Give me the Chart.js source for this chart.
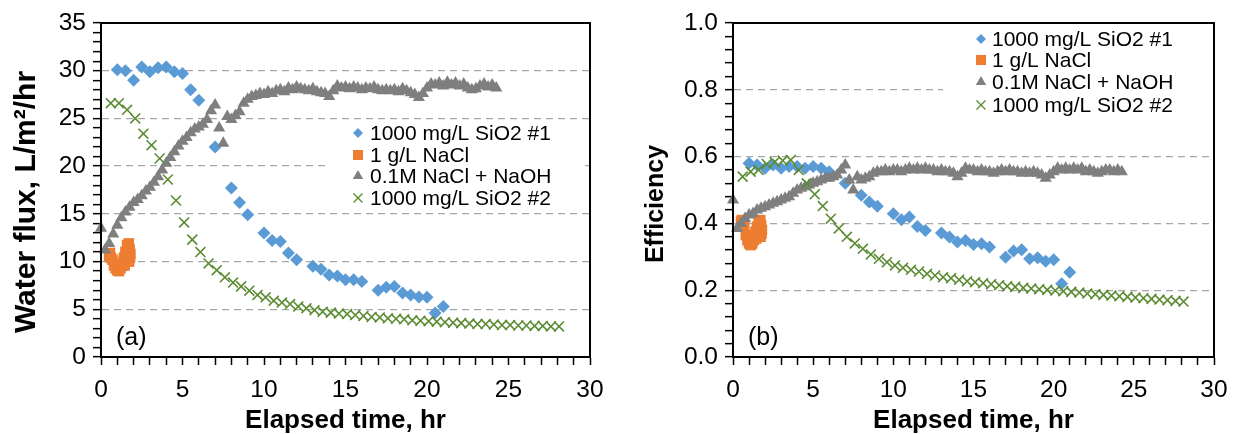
<!DOCTYPE html>
<html>
<head>
<meta charset="utf-8">
<script src="https://cdn.jsdelivr.net/npm/chart.js@4.4.1/dist/chart.umd.min.js"></script>
<style>
  body { margin: 0; background: #fff; }
  #wrap { position: relative; width: 1239px; height: 434px; }
  canvas { position: absolute; top: 0; }
  #flux { left: 0; }
  #eff { left: 620px; }
</style>
</head>
<body>
<div id="wrap">
  <canvas id="flux" width="620" height="434"></canvas>
  <canvas id="eff" width="619" height="434"></canvas>
</div>
<script>
const seriesNames = ["1000 mg/L SiO2 #1", "1 g/L NaCl", "0.1M NaCl + NaOH", "1000 mg/L SiO2 #2"];

// 1000 mg/L SiO2, run 1
const timeSi1 = [1.0, 1.5, 2.0, 2.5, 3.0, 3.5, 4.0, 4.5, 5.0, 5.5, 6.0, 7.0, 8.0, 8.5, 9.0, 10.0, 10.5, 11.0,
  11.5, 12.0, 13.0, 13.5, 14.0, 14.5, 15.0, 15.5, 16.0, 17.0, 17.5, 18.0, 18.5, 19.0, 19.5, 20.0, 20.5, 21.0];
const fluxSi1 = [30.1, 30.0, 29.0, 30.4, 29.9, 30.3, 30.4, 29.9, 29.7, 28.0, 26.9, 22.0, 17.7, 16.2, 14.9, 13.0, 12.2, 12.1,
  10.9, 10.2, 9.5, 9.2, 8.6, 8.5, 8.1, 8.1, 7.9, 7.0, 7.3, 7.4, 6.7, 6.5, 6.3, 6.25, 4.6, 5.3];
const effSi1 = [0.58, 0.575, 0.565, 0.575, 0.565, 0.57, 0.57, 0.565, 0.57, 0.565, 0.555, 0.52, 0.484, 0.464, 0.451, 0.429, 0.411, 0.419,
  0.391, 0.379, 0.371, 0.359, 0.344, 0.349, 0.337, 0.339, 0.329, 0.299, 0.317, 0.321, 0.294, 0.297, 0.287, 0.291, 0.219, 0.254];

// 1 g/L NaCl
const timeNaCl = [0.5, 0.55, 0.6, 0.7, 0.8, 0.9, 1.0, 1.05, 1.1, 1.2, 1.3, 1.35, 1.4, 1.45, 1.5, 1.55, 1.6, 1.65, 1.7, 1.72, 1.75, 1.78, 1.8];
const fluxNaCl = [10.6, 10.9, 10.4, 10.2, 9.6, 9.3, 9.1, 9.2, 9.0, 9.3, 9.6, 9.9, 10.4, 9.6, 11.0, 10.2, 11.7, 10.6, 11.9, 10.0, 11.3, 10.4, 10.8];
const effNaCl = [0.405, 0.41, 0.40, 0.39, 0.365, 0.35, 0.34, 0.345, 0.335, 0.34, 0.35, 0.36, 0.375, 0.355, 0.39, 0.365, 0.405, 0.37, 0.41, 0.36, 0.395, 0.37, 0.38];

// 0.1M NaCl + NaOH
const timeAlk = [0, 0.25, 0.5, 0.75, 1, 1.25, 1.5, 1.75, 2, 2.25, 2.5, 2.75, 3, 3.25, 3.5, 3.75, 4, 4.25, 4.5, 4.75,
  5, 5.25, 5.5, 5.75, 6, 6.25, 6.5, 6.75, 7, 7.25, 7.5, 7.75, 8, 8.25, 8.5, 8.75, 9, 9.25, 9.5, 9.75,
  10, 10.25, 10.5, 10.75, 11, 11.25, 11.5, 11.75, 12, 12.25, 12.5, 12.75, 13, 13.25, 13.5, 13.75, 14, 14.25, 14.5, 14.75,
  15, 15.25, 15.5, 15.75, 16, 16.25, 16.5, 16.75, 17, 17.25, 17.5, 17.75, 18, 18.25, 18.5, 18.75, 19, 19.25, 19.5, 19.75,
  20, 20.25, 20.5, 20.75, 21, 21.25, 21.5, 21.75, 22, 22.25, 22.5, 22.75, 23, 23.25, 23.5, 23.75, 24, 24.25];
const fluxAlk = [13.5, 11.2, 11.9, 12.9, 13.8, 14.6, 15.2, 15.7, 16.2, 16.5,
  16.9, 17.4, 17.8, 18.3, 18.9, 19.6, 20.3, 20.9, 21.5, 22.1,
  22.6, 23.0, 23.5, 23.9, 24.1, 24.4, 24.9, 25.8, 26.4, 24.0,
  22.4, 25.2, 24.9, 25.3, 25.7, 26.6, 27.0, 27.3, 27.4, 27.6,
  27.5, 27.8, 27.6, 27.9, 28.0, 27.8, 28.2, 28.0, 28.3, 28.1,
  28.0, 27.9, 28.1, 27.8, 27.7, 27.6, 27.3, 27.9, 28.4, 28.2,
  28.3, 28.1, 28.3, 28.2, 28.0, 28.2, 28.1, 28.3, 28.0, 27.9,
  28.0, 27.9, 28.0, 27.8, 28.1, 27.9, 27.7, 27.5, 27.2, 27.6,
  28.2, 28.6, 28.5, 28.7, 28.4, 28.8, 28.5, 28.7, 28.4, 28.6,
  28.2, 28.0, 28.1, 28.4, 28.6, 28.3, 28.5, 28.2];
const effAlk = [0.47, 0.385, 0.40, 0.415, 0.425, 0.43, 0.44, 0.445, 0.45, 0.455,
  0.46, 0.465, 0.47, 0.475, 0.48, 0.49, 0.50, 0.505, 0.51, 0.515,
  0.52, 0.525, 0.53, 0.535, 0.535, 0.54, 0.545, 0.56, 0.575, 0.53,
  0.50, 0.54, 0.53, 0.535, 0.54, 0.55, 0.555, 0.555, 0.56, 0.555,
  0.56, 0.56, 0.555, 0.56, 0.565, 0.56, 0.565, 0.56, 0.565, 0.56,
  0.56, 0.555, 0.56, 0.555, 0.555, 0.55, 0.54, 0.55, 0.565, 0.56,
  0.56, 0.555, 0.56, 0.555, 0.555, 0.55, 0.555, 0.56, 0.555, 0.56,
  0.555, 0.555, 0.55, 0.555, 0.55, 0.555, 0.55, 0.545, 0.535, 0.545,
  0.555, 0.565, 0.56, 0.565, 0.56, 0.565, 0.56, 0.565, 0.555, 0.56,
  0.555, 0.55, 0.555, 0.56, 0.56, 0.555, 0.56, 0.555];

// 1000 mg/L SiO2, run 2
const timeSi2 = [0.6, 1.1, 1.6, 2.1, 2.6, 3.1, 3.6, 4.1, 4.6, 5.1, 5.6, 6.1, 6.6, 7.1, 7.6, 8.1, 8.6, 9.1, 9.6, 10.1,
  10.6, 11.1, 11.6, 12.1, 12.6, 13.1, 13.6, 14.1, 14.6, 15.1, 15.6, 16.1, 16.6, 17.1, 17.6, 18.1, 18.6, 19.1, 19.6, 20.1,
  20.6, 21.1, 21.6, 22.1, 22.6, 23.1, 23.6, 24.1, 24.6, 25.1, 25.6, 26.1, 26.6, 27.1, 27.6, 28.1];
const fluxSi2 = [26.6, 26.6, 25.9, 25.0, 23.4, 22.2, 20.8, 18.6, 16.4, 14.1,
  12.3, 11.0, 9.8, 9.1, 8.35, 7.8, 7.4, 6.95, 6.5, 6.25,
  5.9, 5.7, 5.55, 5.3, 5.1, 4.9, 4.75, 4.65, 4.55, 4.5,
  4.4, 4.3, 4.2, 4.15, 4.05, 4.0, 3.95, 3.85, 3.8, 3.75,
  3.7, 3.65, 3.6, 3.55, 3.5, 3.45, 3.45, 3.4, 3.35, 3.35,
  3.3, 3.3, 3.25, 3.25, 3.2, 3.2];
const effSi2 = [0.54, 0.555, 0.56, 0.578, 0.584, 0.588, 0.59, 0.56, 0.52, 0.487,
  0.452, 0.414, 0.385, 0.36, 0.34, 0.324, 0.307, 0.294, 0.284, 0.274,
  0.267, 0.261, 0.256, 0.249, 0.244, 0.239, 0.236, 0.231, 0.227, 0.224,
  0.221, 0.218, 0.215, 0.212, 0.21, 0.207, 0.205, 0.203, 0.201, 0.199,
  0.197, 0.195, 0.193, 0.19, 0.188, 0.186, 0.184, 0.182, 0.18, 0.178,
  0.176, 0.174, 0.172, 0.17, 0.168, 0.166];

const timeTicks = [0, 5, 10, 15, 20, 25, 30];
const fluxTicks = [0, 5, 10, 15, 20, 25, 30, 35];
const effTicks = [0.0, 0.2, 0.4, 0.6, 0.8, 1.0];

const FONT = '"Liberation Sans", Arial, sans-serif';
Chart.defaults.font.family = FONT;
Chart.defaults.color = '#000';

const BLUE = '#5B9BD5', ORANGE = '#ED7D31', GRAY = '#7F7F7F', GREEN = '#5B8C32';
const markers = [
  { style: 'rectRot', color: BLUE, radius: 6.5 },
  { style: 'rect', color: ORANGE, radius: 7.5 },
  { style: 'triangle', color: GRAY, radius: 7 },
  { style: 'crossRot', color: GREEN, radius: 7 }
];

const pairs = (xs, ys) => xs.map((x, i) => ({ x, y: ys[i] }));

function buildDatasets(series) {
  // later series sit on top, so the first one gets the highest order
  return series.map((s, i) => {
    const m = markers[i];
    const isCross = m.style === 'crossRot';
    return {
      label: seriesNames[i],
      data: pairs(s.t, s.v),
      order: 4 - i,
      clip: false,
      pointStyle: m.style,
      pointRadius: m.radius,
      pointHoverRadius: m.radius,
      pointBackgroundColor: isCross ? 'rgba(0,0,0,0)' : m.color,
      pointBorderColor: m.color,
      pointBorderWidth: isCross ? 1.6 : 0,
      showLine: false
    };
  });
}

// small legend glyphs
function legendMark(ctx, style, color, x, y) {
  ctx.save();
  ctx.fillStyle = color;
  ctx.strokeStyle = color;
  ctx.beginPath();
  if (style === 'rectRot') {
    const r = 5;
    ctx.moveTo(x, y - r); ctx.lineTo(x + r, y); ctx.lineTo(x, y + r); ctx.lineTo(x - r, y);
    ctx.closePath(); ctx.fill();
  } else if (style === 'rect') {
    ctx.fillRect(x - 5, y - 5, 10, 10);
  } else if (style === 'triangle') {
    const r = 6;
    ctx.moveTo(x, y - r); ctx.lineTo(x + r * 0.866, y + r / 2); ctx.lineTo(x - r * 0.866, y + r / 2);
    ctx.closePath(); ctx.fill();
  } else {
    const d = 4.5;
    ctx.lineWidth = 1.4;
    ctx.moveTo(x - d, y - d); ctx.lineTo(x + d, y + d);
    ctx.moveTo(x + d, y - d); ctx.lineTo(x - d, y + d);
    ctx.stroke();
  }
  ctx.restore();
}

const panelDecor = {
  id: 'panelDecor',
  beforeDatasetsDraw(chart, args, o) {
    const ctx = chart.ctx;
    const b = o.legendBox;
    ctx.save();
    ctx.fillStyle = '#fff';
    ctx.fillRect(b.left, b.top, b.right - b.left, b.bottom - b.top);
    ctx.font = '21px ' + FONT;
    ctx.textAlign = 'left';
    ctx.textBaseline = 'middle';
    seriesNames.forEach((name, i) => {
      legendMark(ctx, markers[i].style, markers[i].color, o.markX, o.rows[i]);
      ctx.fillStyle = '#000';
      ctx.fillText(name, o.textX, o.rows[i] + 1);
    });
    ctx.restore();
  },
  afterDraw(chart, args, o) {
    const ctx = chart.ctx;
    const a = chart.chartArea;
    ctx.save();
    ctx.strokeStyle = '#000';
    ctx.lineWidth = 2;
    ctx.strokeRect(a.left, a.top, a.right - a.left, a.bottom - a.top);

    ctx.fillStyle = '#000';
    ctx.font = 'bold 26px ' + FONT;
    ctx.textAlign = 'center';
    ctx.textBaseline = 'alphabetic';
    ctx.fillText('Elapsed time, hr', (a.left + a.right) / 2, 428);

    ctx.font = '25px ' + FONT;
    ctx.textAlign = 'left';
    ctx.textBaseline = 'middle';
    ctx.fillText(o.tag, a.left + 15, 338);

    ctx.translate(o.titleX, o.titleY);
    ctx.rotate(-Math.PI / 2);
    ctx.font = 'bold ' + o.titleSize + 'px ' + FONT;
    ctx.textAlign = 'center';
    ctx.textBaseline = 'alphabetic';
    ctx.fillText(o.title, 0, 0);
    ctx.restore();
  }
};

function makeChart(id, cfg) {
  return new Chart(document.getElementById(id), {
    type: 'scatter',
    data: { datasets: buildDatasets(cfg.series) },
    options: {
      responsive: false,
      animation: false,
      events: [],
      layout: { padding: { top: 23, right: cfg.rightPad, left: 0, bottom: 0 } },
      scales: {
        x: {
          type: 'linear', min: 0, max: 30,
          afterFit: s => { s.height = 77; },
          ticks: {
            stepSize: 1, autoSkip: false, maxRotation: 0, padding: 11,
            font: { size: 24.5 }, color: '#000',
            callback: v => timeTicks.includes(v) ? String(v) : ''
          },
          grid: { drawOnChartArea: false, color: '#000', tickColor: '#000', tickLength: 8, tickWidth: 1.5 },
          border: { color: '#000', width: 2 }
        },
        y: {
          type: 'linear', min: cfg.yMin, max: cfg.yMax,
          afterFit: s => { s.width = cfg.yWidth; },
          ticks: {
            stepSize: cfg.yStep, autoSkip: false, padding: 7,
            font: { size: 24.5 }, color: '#000',
            callback: v => cfg.yTicks.includes(v) ? cfg.fmt(v) : ''
          },
          grid: {
            color: c => (cfg.yTicks.includes(c.tick.value) && c.tick.value > cfg.yMin && c.tick.value < cfg.yMax)
              ? '#A6A6A6' : 'rgba(0,0,0,0)',
            lineWidth: 1.3,
            tickColor: '#000', tickLength: 8, tickWidth: 1.5
          },
          border: { color: '#000', width: 2, dash: [7, 5] }
        }
      },
      plugins: {
        legend: { display: false },
        tooltip: { enabled: false },
        panelDecor: cfg.decor
      }
    },
    plugins: [panelDecor]
  });
}

makeChart('flux', {
  series: [
    { t: timeSi1, v: fluxSi1 }, { t: timeNaCl, v: fluxNaCl },
    { t: timeAlk, v: fluxAlk }, { t: timeSi2, v: fluxSi2 }
  ],
  yMin: 0, yMax: 35, yStep: 1, yTicks: fluxTicks, fmt: v => String(v),
  yWidth: 101, rightPad: 30,
  decor: {
    title: 'Water flux, L/m\u00B2/hr', titleX: 35, titleY: 202, titleSize: 30, tag: '(a)',
    legendBox: { left: 325, top: 120, right: 585, bottom: 210 },
    markX: 358, textX: 370, rows: [133, 155, 176, 198]
  }
});

makeChart('eff', {
  series: [
    { t: timeSi1, v: effSi1 }, { t: timeNaCl, v: effNaCl },
    { t: timeAlk, v: effAlk }, { t: timeSi2, v: effSi2 }
  ],
  yMin: 0, yMax: 1, yStep: 0.04, yTicks: effTicks, fmt: v => v.toFixed(1),
  yWidth: 113, rightPad: 25,
  decor: {
    title: 'Efficiency', titleX: 43, titleY: 204, titleSize: 25, tag: '(b)',
    legendBox: { left: 323, top: 27, right: 590, bottom: 117 },
    markX: 361, textX: 372, rows: [39, 60, 82, 105]
  }
});
</script>
</body>
</html>
